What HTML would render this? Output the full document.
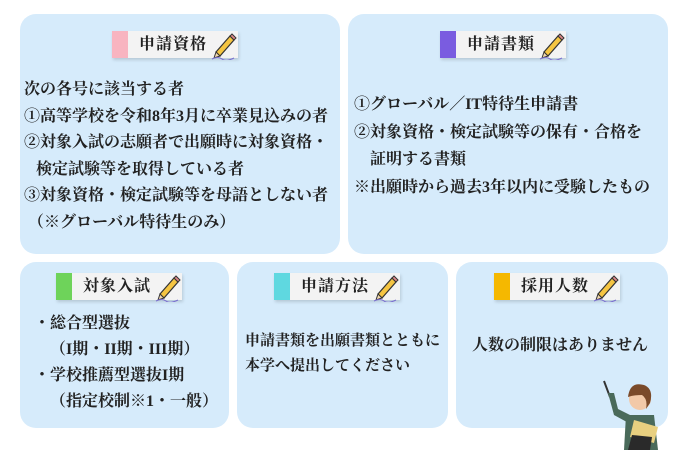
<!DOCTYPE html>
<html><head><meta charset="utf-8"><style>
body{margin:0;width:680px;height:450px;background:#fff;position:relative;overflow:hidden;font-family:"Liberation Serif","Noto Serif CJK SC",serif;font-weight:bold;color:#222}
.p{position:absolute;background:#d6ebfb;border-radius:16px}
.tag{position:absolute;height:27px;background:#f3f3f3;box-shadow:1px 2px 3px rgba(0,0,0,.15);font-size:16px;line-height:27px;white-space:nowrap}
.tag i{position:absolute;left:0;top:0;width:16px;height:27px}
.tag span{position:absolute;left:27px;top:0;letter-spacing:1px}
.tag svg{position:absolute;top:1px}
.t{position:absolute;font-size:16px;line-height:26.5px;white-space:nowrap}
</style></head><body>
<div class="p" style="left:20px;top:14px;width:320px;height:240px"></div>
<div class="p" style="left:348px;top:14px;width:320px;height:240px"></div>
<div class="p" style="left:20px;top:262px;width:209px;height:166px"></div>
<div class="p" style="left:237px;top:262px;width:211px;height:166px"></div>
<div class="p" style="left:456px;top:262px;width:212px;height:166px"></div>

<svg width="0" height="0" style="position:absolute"><defs><g id="pen"><path d="M6 20 L20 4 L24 8 L10 24 Z" fill="#f5c542" stroke="#333" stroke-width="1.2"/><path d="M20 4 L22 2 L26 6 L24 8Z" fill="#d88" stroke="#333" stroke-width="1"/><path d="M6 20 L4 26 L10 24Z" fill="#f3d9b0" stroke="#333" stroke-width="1"/><path d="M2 27 q6 -3 10 0 t12 -1" fill="none" stroke="#7a6fd0" stroke-width="1"/></g></defs></svg>

<div class="tag" style="left:112px;top:31px;width:126px"><i style="background:#f8b4c0"></i><span>申請資格</span><svg style="left:98px" width="28" height="28"><use href="#pen"/></svg></div>
<div class="tag" style="left:440px;top:31px;width:126px"><i style="background:#7a5ce0"></i><span>申請書類</span><svg style="left:98px" width="28" height="28"><use href="#pen"/></svg></div>
<div class="tag" style="left:56px;top:273px;width:126px"><i style="background:#6ed35a"></i><span>対象入試</span><svg style="left:98px" width="28" height="28"><use href="#pen"/></svg></div>
<div class="tag" style="left:274px;top:273px;width:126px"><i style="background:#5fd8e0"></i><span>申請方法</span><svg style="left:98px" width="28" height="28"><use href="#pen"/></svg></div>
<div class="tag" style="left:494px;top:273px;width:126px"><i style="background:#f5b800"></i><span>採用人数</span><svg style="left:98px" width="28" height="28"><use href="#pen"/></svg></div>

<div class="t" style="left:24px;top:77px">次の各号に該当する者<br>①高等学校を令和8年3月に卒業見込みの者<br>②対象入試の志願者で出願時に対象資格・<br>&nbsp;&nbsp;&nbsp;検定試験等を取得している者<br>③対象資格・検定試験等を母語としない者<br>&nbsp;（※グローバル特待生のみ）</div>
<div class="t" style="left:354px;top:91px;line-height:27.5px">①グローバル／IT特待生申請書<br>②対象資格・検定試験等の保有・合格を<br>&nbsp;&nbsp;&nbsp;&nbsp;証明する書類<br>※出願時から過去3年以内に受験したもの</div>
<div class="t" style="left:34px;top:311px;line-height:26px">・総合型選抜<br>&nbsp;&nbsp;&nbsp;&nbsp;（I期・II期・III期）<br>・学校推薦型選抜I期<br>&nbsp;&nbsp;&nbsp;&nbsp;（指定校制※1・一般）</div>
<div class="t" style="left:245px;top:329px;font-size:15px;line-height:25px">申請書類を出願書類とともに<br>本学へ提出してください</div>
<div class="t" style="left:472px;top:333px">人数の制限はありません</div>

<svg style="position:absolute;left:596px;top:375px" width="70" height="75">
<path d="M8 6 L14 22" stroke="#333" stroke-width="2"/>
<path d="M12 18 L18 40 L40 52 L42 44 L22 34 L18 18Z" fill="#4a6a5a"/>
<circle cx="44" cy="24" r="11" fill="#f2c9a8"/>
<path d="M32 22 q2 -16 16 -12 q10 4 6 18 l-4 6 q2 -10 -4 -14 q-8 0 -14 2Z" fill="#7a4a2a"/>
<path d="M30 40 L58 40 L62 75 L28 75Z" fill="#4a6a5a"/>
<path d="M38 45 L62 52 L58 68 L34 62Z" fill="#e8d080"/>
<path d="M36 60 L56 62 L54 75 L32 75Z" fill="#2a2a2a"/>
</svg>
</body></html>
